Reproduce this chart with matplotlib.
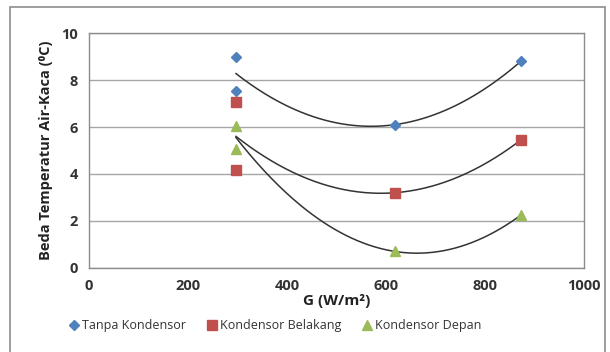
import numpy as np
import matplotlib
matplotlib.use("Agg")
import matplotlib.pyplot as plt
from matplotlib.patches import Rectangle

plt.rcParams['font.family'] = ['Open Sans', 'DejaVu Sans']

g_values = [297, 297, 618, 873]
tanpa = [9.0, 7.55, 6.1, 8.8]
belakang = [7.05, 4.15, 3.2, 5.45]
depan = [6.05, 5.05, 0.7, 2.25]
series_names = ["Tanpa Kondensor", "Kondensor Belakang", "Kondensor Depan"]
x_ticks = [0, 200, 400, 600, 800, 1000]
y_ticks = [0, 2, 4, 6, 8, 10]

fig = plt.figure(figsize=(6.10, 3.52), dpi=100)
fig.patches.append(Rectangle((0.016, -0.01), 0.976, 0.99, transform=fig.transFigure,
                             fill=False, edgecolor='#8c8c8c', linewidth=1.2))
ax = fig.add_axes([0.146, 0.239, 0.811, 0.667])

styles = [('D', '#4F81BD', 5), ('s', '#C0504D', 6.5), ('^', '#9BBB59', 7)]
x = np.array(g_values, dtype=float)
for ys, name, (m, c, ms) in zip([tanpa, belakang, depan], series_names, styles):
    ax.plot(x, ys, linestyle='none', marker=m, color=c, markersize=ms, label=name, zorder=3)
    coef = np.polyfit(x, ys, 2)
    xf = np.linspace(x.min(), x.max(), 200)
    ax.plot(xf, np.polyval(coef, xf), color='#333333', linewidth=1.1, zorder=2)

ax.set_xlim(0, 1000)
ax.set_ylim(0, 10)
ax.set_xticks(x_ticks)
ax.set_yticks(y_ticks)
ax.yaxis.grid(True, color='#a6a6a6', linewidth=1.0)
ax.set_axisbelow(True)
for s in ax.spines.values():
    s.set_color('#8c8c8c')
    s.set_linewidth(1.0)
ax.tick_params(length=0, labelsize=10.5, colors='#333333', pad=8)
for lab in ax.get_xticklabels() + ax.get_yticklabels():
    lab.set_fontweight('bold')

ax.set_xlabel("G (W/m²)", fontsize=11, fontweight='bold', labelpad=1, color='#222222')
ax.set_ylabel("Beda Temperatur Air-Kaca (⁰C)", fontsize=10.5, fontweight='bold', labelpad=6,
              color='#222222')

leg = fig.legend(loc='center', bbox_to_anchor=(0.45, 0.075), ncol=3, frameon=False,
                 fontsize=9, handletextpad=0.1, columnspacing=1.6, handlelength=1.0)
for t in leg.get_texts():
    t.set_color('#333333')

fig.savefig("out.png", dpi=100)
